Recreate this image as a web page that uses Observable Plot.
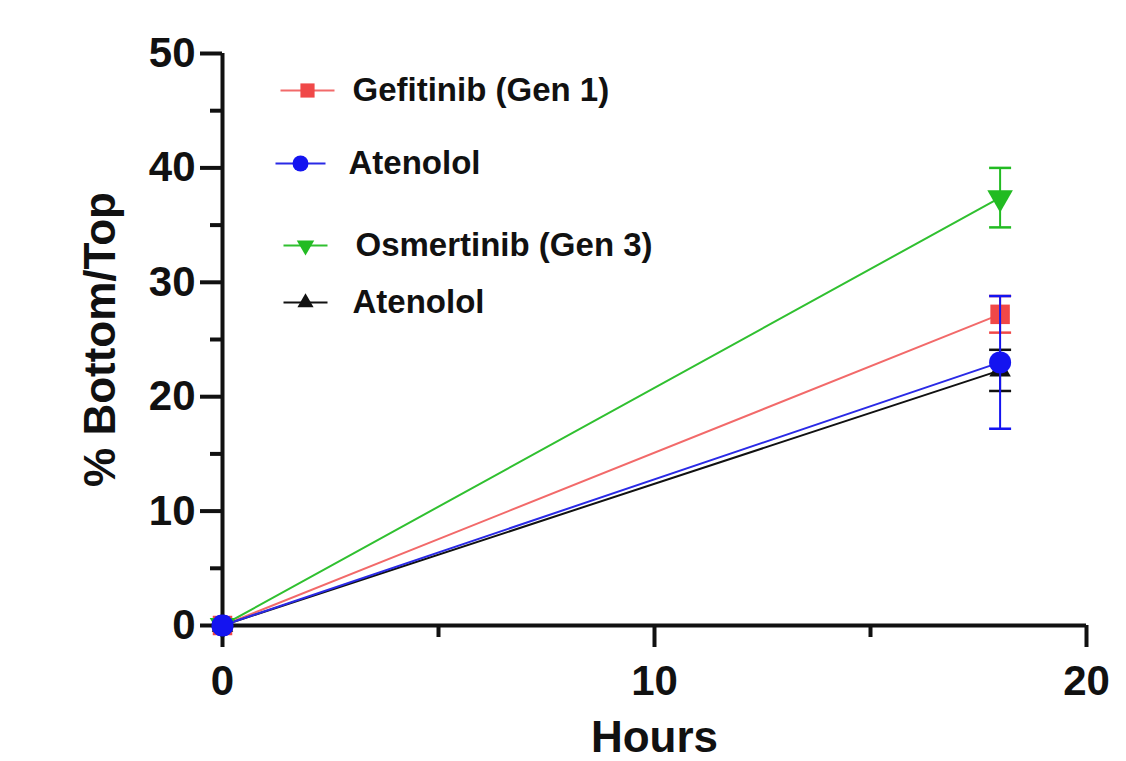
<!DOCTYPE html>
<html><head><meta charset="utf-8">
<script src="https://cdn.jsdelivr.net/npm/d3@7"></script>
<script src="https://cdn.jsdelivr.net/npm/@observablehq/plot@0.6"></script>
<style>body{margin:0;background:#fff;}</style>
</head><body><div id="chart"></div>
<script>
// ---- data ----
const hours = [0, 18];
const seriesNames = ["Gefitinib (Gen 1)", "Atenolol", "Osmertinib (Gen 3)", "Atenolol"];
const gefMean = [0, 27.2], gefErr = [0, 1.6];
const aten1Mean = [0, 23.0], aten1Err = [0, 5.8];
const osmMean = [0, 37.4], osmErr = [0, 2.6];
const aten2Mean = [0, 22.3], aten2Err = [0, 1.8];
const yTicks = [0, 10, 20, 30, 40, 50];
const yMinorTicks = [5, 15, 25, 35, 45];
const xTicks = [0, 10, 20];
const xMinorTicks = [5, 15];
const xLabel = "Hours";
const yLabel = "% Bottom/Top";

// ---- styles ----
const markerColors = ["#f04848", "#1414f0", "#22bb22", "#111111"];
const lineColors = ["#f26a6a", "#2a2ae6", "#30c030", "#111111"];
const symbols = ["square", "circle", "triangle", "triangle"];
const rotations = [0, 0, 180, 0];
const radii = [11, 11, 9.5, 8];

const meansList = [gefMean, aten1Mean, osmMean, aten2Mean];
const errsList = [gefErr, aten1Err, osmErr, aten2Err];
const series = seriesNames.map((name, i) => ({
  name, i,
  rows: hours.map((h, j) => ({x: h, y: meansList[i][j], e: errsList[i][j]}))
}));

function hline(w) { return {draw(ctx) { ctx.moveTo(-w, 0); ctx.lineTo(w, 0); }}; }

const drawOrder = [0, 2, 3, 1];
const lineOrder = [2, 0, 3, 1];
const marks = [];
for (const i of lineOrder) {
  marks.push(Plot.line(series[i].rows, {x: "x", y: "y", stroke: lineColors[i], strokeWidth: 2}));
}
for (const i of drawOrder) {
  const withErr = series[i].rows.filter(d => d.e > 0);
  marks.push(Plot.ruleX(withErr, {x: "x", y1: d => d.y - d.e, y2: d => d.y + d.e, stroke: markerColors[i], strokeWidth: 2}));
  marks.push(Plot.dot(withErr, {x: "x", y: d => d.y + d.e, symbol: hline(11), stroke: markerColors[i], strokeWidth: 2.5, fill: "none"}));
  marks.push(Plot.dot(withErr, {x: "x", y: d => d.y - d.e, symbol: hline(11), stroke: markerColors[i], strokeWidth: 2.5, fill: "none"}));
  marks.push(Plot.dot(series[i].rows, {x: "x", y: "y", symbol: symbols[i], rotate: rotations[i], r: radii[i], fill: markerColors[i], stroke: "none"}));
}
// legend (inside the frame)
const legDy = [37, 110, 192, 249];
const legLineDx = [85, 78, 83, 83];
const legTextDx = [130, 126, 133, 130];
const legLineW = [27, 25, 22, 22];
const legR = [8, 8, 6.5, 6];
series.forEach((s, i) => {
  marks.push(Plot.dot([s], {frameAnchor: "top-left", dx: legLineDx[i], dy: legDy[i], symbol: hline(legLineW[i]), stroke: lineColors[i], strokeWidth: 2, fill: "none"}));
  marks.push(Plot.dot([s], {frameAnchor: "top-left", dx: legLineDx[i], dy: legDy[i], symbol: symbols[i], rotate: rotations[i], r: legR[i], fill: markerColors[i], stroke: "none"}));
  marks.push(Plot.text([s], {frameAnchor: "top-left", dx: legTextDx[i], dy: legDy[i], text: "name", textAnchor: "start", lineAnchor: "middle", fontSize: 33, fontWeight: "bold", fill: "#111"}));
});
// axes
marks.push(
  Plot.axisY(yTicks, {tickSize: 22, tickPadding: 5, fontSize: 42, fontWeight: "bold", strokeWidth: 4, label: null}),
  Plot.axisY(yMinorTicks, {tickSize: 12, strokeWidth: 4, tickFormat: () => "", label: null}),
  Plot.axisX(xTicks, {tickSize: 22, tickPadding: 18, fontSize: 42, fontWeight: "bold", strokeWidth: 4, label: null}),
  Plot.axisX(xMinorTicks, {tickSize: 12, strokeWidth: 4, tickFormat: () => "", label: null}),
  Plot.ruleX([0], {strokeWidth: 4, stroke: "#111"}),
  Plot.ruleY([0], {strokeWidth: 4, stroke: "#111"}),
  Plot.text([yLabel], {frameAnchor: "left", dx: -122, rotate: -90, lineAnchor: "middle", textAnchor: "middle", fontSize: 44, fontWeight: "bold", fill: "#111"}),
  Plot.text([xLabel], {frameAnchor: "bottom", dy: 112, lineAnchor: "middle", textAnchor: "middle", fontSize: 44, fontWeight: "bold", fill: "#111"})
);
marks.push(Plot.dot(series[1].rows.filter(d => d.x === 0), {x: "x", y: "y", symbol: "circle", r: radii[1], fill: markerColors[1]}));

const chart = Plot.plot({
  width: 1126, height: 761,
  marginLeft: 222, marginRight: 40, marginTop: 53, marginBottom: 136,
  x: {domain: [0, 20]},
  y: {domain: [0, 50]},
  style: {fontFamily: "'Liberation Sans', Arial, sans-serif", fontWeight: "bold", fontSize: "40px", color: "#111", background: "#fff"},
  marks
});
document.getElementById("chart").appendChild(chart);
</script>
</body></html>
